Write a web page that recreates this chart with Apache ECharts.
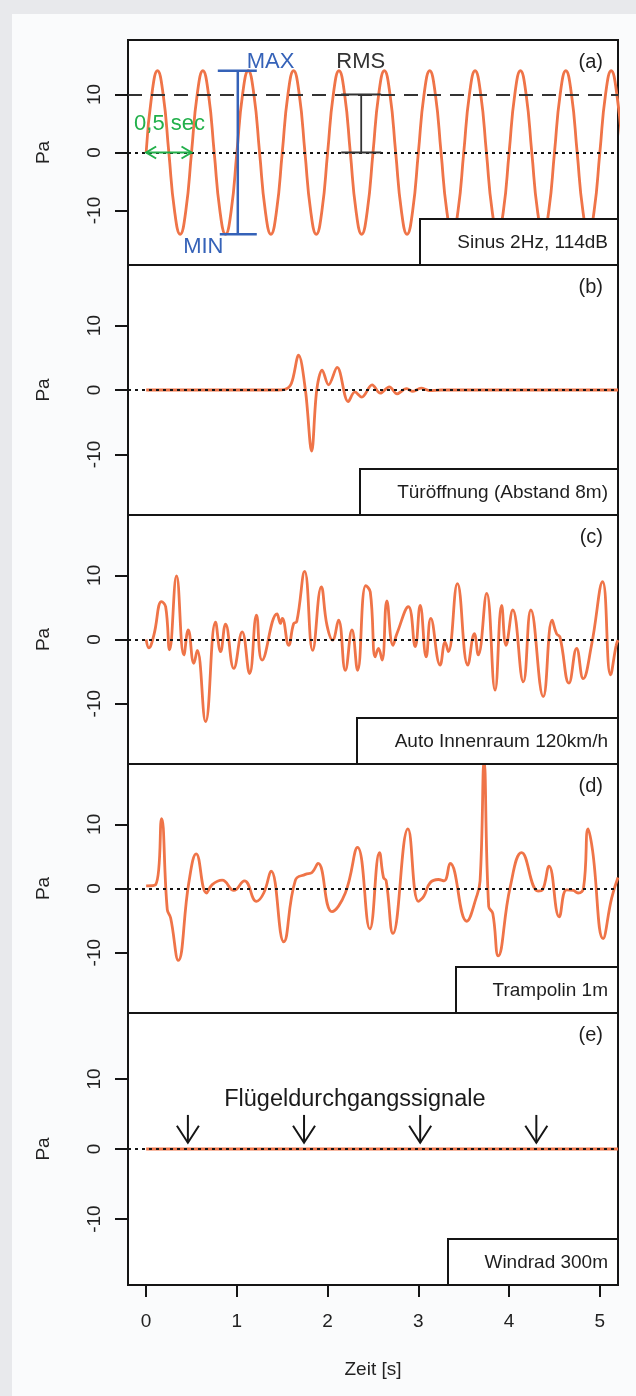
<!DOCTYPE html>
<html><head><meta charset="utf-8">
<script src="https://cdn.jsdelivr.net/npm/echarts@6/dist/echarts.min.js"></script>
<style>
html,body{margin:0;padding:0;background:#e8e9ec;}
#card{position:absolute;left:12px;top:14px;width:624px;height:1382px;background:#fafbfc;}
#chart{position:absolute;left:0;top:0;width:636px;height:1396px;}
</style></head><body>
<div id="card"></div>
<div id="chart"></div>
<script>
// ---------- data ----------
const xTicks = [0, 1, 2, 3, 4, 5];
const yTicks = [-10, 0, 10];
const panelLetters = ['(a)', '(b)', '(c)', '(d)', '(e)'];
const panelTitles = ['Sinus 2Hz, 114dB', 'Türöffnung (Abstand 8m)', 'Auto Innenraum 120km/h', 'Trampolin 1m', 'Windrad 300m'];

// (a) sine, sampled every 1/16 s
const sinusStart = 0, sinusStep = 0.0625;
const sinusPa = [
  0,10,14.1,10,0,-10,-14.1,-10,
  0,10,14.1,10,0,-10,-14.1,-10,
  0,10,14.1,10,0,-10,-14.1,-10,
  0,10,14.1,10,0,-10,-14.1,-10,
  0,10,14.1,10,0,-10,-14.1,-10,
  0,10,14.1,10,0,-10,-14.1,-10,
  0,10,14.1,10,0,-10,-14.1,-10,
  0,10,14.1,10,0,-10,-14.1,-10,
  0,10,14.1,10,0,-10,-14.1,-10,
  0,10,14.1,10,0,-10,-14.1,-10,
  0,10,14.1,10,0
];
const rmsLevel = 10;
const maxMinBar = [1.01, -14.1, 14.1];   // t, min, max
const rmsBar = [2.37, 0, 10];            // t, from, to
const periodArrow = [0, 0.5, 0];         // t0, t1, level

// (b) door opening
const tuerT  = [0, 0.8, 1.3, 1.45, 1.53, 1.60, 1.68, 1.755, 1.824, 1.88, 1.94, 2.01, 2.105, 2.227, 2.30, 2.376, 2.49, 2.58, 2.68, 2.765, 2.866, 2.94, 3.03, 3.12, 3.25, 3.5, 4.2, 5.2];
const tuerPa = [0, 0,   0,   0,    0.1,  1.0,  5.4,  0,     -9.5,  0,    3.1,  0.8,  3.5,   -1.8,  -0.3, -1.1,  0.8,  -0.5, 0.5,  -0.6,  0.2,   -0.2, 0.3,  -0.1, 0,    0,   0,   0];

// (c) car interior 120 km/h
const autoT  = [0,0.03,0.085,0.17,0.215,0.258,0.335,0.416,0.464,0.526,0.563,0.655,0.765,0.82,0.875,0.966,1.058,1.14,1.216,1.278,1.443,1.48,1.50,1.571,1.626,1.66,1.747,1.835,1.93,1.993,2.055,2.12,2.195,2.268,2.33,2.42,2.47,2.525,2.56,2.60,2.653,2.72,2.763,2.89,2.965,3.02,3.086,3.137,3.24,3.295,3.33,3.43,3.545,3.617,3.66,3.753,3.845,3.918,3.966,4.04,4.156,4.24,4.376,4.475,4.523,4.56,4.66,4.744,4.816,4.908,5.03,5.118,5.18,5.2];
const autoPa = [0,-1.3,0.7,5.9,5.1,-1.6,9.9,-2.4,1.5,-3.7,-1.7,-12.8,2.7,-1.9,2.4,-4.5,1.2,-5.3,3.8,-3.2,4.0,2.5,3.3,-0.9,2.5,2.8,10.6,-1.7,8.2,2.2,-0.1,3.0,-4.8,1.5,-4.8,8.4,7.4,-2.7,-1.4,-3.2,6.0,-0.9,0.9,5.1,-1.1,5.3,-2.7,3.3,-4.0,-0.4,-1.9,8.7,-4.0,0.9,-2.4,7.2,-7.9,5.3,-0.9,4.6,-6.6,4.6,-8.9,3.0,0.9,0.4,-6.8,-1.4,-6.1,-0.9,9.0,-5.5,-0.9,-0.1];

// (d) trampoline 1 m
const trampT  = [0,0.105,0.17,0.233,0.27,0.354,0.47,0.552,0.665,0.728,0.838,0.966,1.083,1.216,1.296,1.377,1.516,1.645,1.755,1.828,1.894,2.048,2.195,2.33,2.465,2.572,2.616,2.645,2.72,2.885,3.0,3.06,3.13,3.22,3.284,3.35,3.533,3.636,3.68,3.724,3.775,3.82,3.88,4.01,4.138,4.32,4.368,4.44,4.552,4.633,4.706,4.76,4.82,4.87,4.92,5.036,5.13,5.2];
const trampPa = [0.4,0.6,10.9,-3.3,-4.6,-11.2,0.9,5.4,-0.7,0.6,1.3,-0.3,1.2,-2.0,-0.7,2.7,-8.3,1.3,2.2,2.5,3.9,-3.6,-0.7,6.4,-6.3,5.6,1.7,1.2,-7.0,9.3,-2.0,-1.2,0.9,1.4,1.2,3.9,-5.1,-1.5,1.2,19.8,-2.8,-3.9,-10.5,0.1,5.6,-0.4,-0.2,3.5,-4.4,-0.2,-0.3,-0.7,0.1,9.3,5.9,-7.8,-1.5,1.7];

// (e) wind turbine 300 m
const windT  = [0, 1, 2, 3, 4, 5, 5.2];
const windPa = [0, 0, 0, 0, 0, 0, 0];
const bladeArrowT = [0.46, 1.74, 3.02, 4.30];
const bladeArrowPa = [4.86, 0.9];   // from, to

// ---------- styling / layout ----------
const FONT = 'Liberation Sans, Arial, Helvetica, sans-serif';
const ORANGE = '#ef7448', BLUE = '#3562b8', GREEN = '#22b04b', INK = '#151515';
const X_MIN = -0.2, X_MAX = 5.2, Y_MIN = -19.4, Y_MAX = 19.4;
const layout = [
  {top: 40, height: 225, box: 420},
  {top: 265, height: 250, box: 360},
  {top: 515, height: 249, box: 357},
  {top: 764, height: 249, box: 456},
  {top: 1013, height: 272, box: 448}
];
const GL = 128, GW = 490, GR = GL + GW;
const smoothing = [0.5, 0.35, 0.45, 0.45, 0];

const pairs = (ts, vs) => ts.map((t, i) => [t, vs[i]]);
const sinusData = sinusPa.map((v, i) => [sinusStart + i * sinusStep, v]);
const seriesData = [sinusData, pairs(tuerT, tuerPa), pairs(autoT, autoPa), pairs(trampT, trampPa), pairs(windT, windPa)];

const grids = layout.map(p => ({left: GL, width: GW, top: p.top, height: p.height, show: true,
  borderColor: INK, borderWidth: 2, backgroundColor: '#ffffff', containLabel: false, outerBoundsMode: 'none'}));

const xAxes = layout.map((p, i) => {
  const last = i === layout.length - 1;
  return {
    type: 'value', gridIndex: i, min: X_MIN, max: X_MAX, position: 'bottom',
    axisLine: {show: false, onZero: false}, splitLine: {show: false},
    axisTick: {show: last, customValues: xTicks, length: 12, inside: false, lineStyle: {color: INK, width: 2}},
    axisLabel: {show: last, customValues: xTicks, fontSize: 19, color: '#222', margin: 27, fontFamily: FONT},
    name: last ? 'Zeit [s]' : '', nameLocation: 'middle', nameGap: 75,
    nameTextStyle: {fontSize: 19, color: '#222', fontFamily: FONT}
  };
});
const yAxes = layout.map((p, i) => ({
  type: 'value', gridIndex: i, min: Y_MIN, max: Y_MAX, position: 'left',
  axisLine: {show: false, onZero: false}, splitLine: {show: false},
  axisTick: {show: true, customValues: yTicks, length: 13, inside: false, lineStyle: {color: INK, width: 2}},
  axisLabel: {customValues: yTicks, rotate: 90, fontSize: 19, color: '#222', margin: 24, fontFamily: FONT},
  name: 'Pa', nameLocation: 'middle', nameGap: 75, nameRotate: 90,
  nameTextStyle: {fontSize: 19, color: '#222', fontFamily: FONT}
}));

const zeroLine = {yAxis: 0, lineStyle: {type: [3, 4], color: INK, width: 2}};
const lineSeries = seriesData.map((d, i) => ({
  type: 'line', xAxisIndex: i, yAxisIndex: i, data: d, symbol: 'none',
  smooth: smoothing[i], clip: true, animation: false,
  lineStyle: {color: ORANGE, width: 2.8},
  markLine: {silent: true, symbol: ['none', 'none'], label: {show: false}, animation: false, z: 5,
    data: i === 0 ? [zeroLine, {yAxis: rmsLevel, lineStyle: {type: [14, 9], color: '#333', width: 1.8}}] : [zeroLine]}
}));

function txt(x, y, text, color, size, align) {
  return {type: 'text', x: x, y: y, style: {text: text, fill: color, font: size + 'px ' + FONT,
    align: align || 'center', verticalAlign: 'middle', textAlign: align || 'center', textVerticalAlign: 'middle'}};
}
function seg(a, b, color, w) {
  return {type: 'line', shape: {x1: a[0], y1: a[1], x2: b[0], y2: b[1]}, style: {stroke: color, lineWidth: w}};
}
function poly(pts, color, w) {
  return {type: 'polyline', shape: {points: pts}, style: {stroke: color, fill: 'none', lineWidth: w}};
}

function renderSinusNotes(params, api) {
  const c = (t, v) => api.coord([t, v]);
  const els = [];
  const top = c(maxMinBar[0], maxMinBar[2]), bot = c(maxMinBar[0], maxMinBar[1]);
  els.push(seg(top, bot, BLUE, 2.5));
  els.push(seg([top[0] - 20, top[1]], [top[0] + 19, top[1]], BLUE, 2.5));
  els.push(seg([bot[0] - 18, bot[1]], [bot[0] + 19, bot[1]], BLUE, 2.5));
  const r1 = c(rmsBar[0], rmsBar[2]), r0 = c(rmsBar[0], rmsBar[1]);
  els.push(seg(r1, r0, '#333', 1.8));
  els.push(seg([r1[0] - 20, r1[1]], [r1[0] + 20, r1[1]], '#333', 1.8));
  els.push(seg([r0[0] - 20, r0[1]], [r0[0] + 20, r0[1]], '#333', 1.8));
  const a = c(periodArrow[0], periodArrow[2]), b = c(periodArrow[1], periodArrow[2]);
  els.push(seg(a, b, GREEN, 2));
  els.push(poly([[a[0] + 10, a[1] - 6], a, [a[0] + 10, a[1] + 6]], GREEN, 2));
  els.push(poly([[b[0] - 10, b[1] - 6], b, [b[0] - 10, b[1] + 6]], GREEN, 2));
  const m = c(1.37, 15.6); els.push(txt(m[0], m[1], 'MAX', BLUE, 22));
  const n = c(0.63, -16.2); els.push(txt(n[0], n[1], 'MIN', BLUE, 22));
  const r = c(2.365, 15.6); els.push(txt(r[0], r[1], 'RMS', '#333', 22));
  const s = c(0.258, 5.0); els.push(txt(s[0], s[1], '0,5 sec', GREEN, 22));
  return {type: 'group', children: els};
}
function renderWindNotes(params, api) {
  const c = (t, v) => api.coord([t, v]);
  const els = [];
  bladeArrowT.forEach(t => {
    const p0 = c(t, bladeArrowPa[0]), p1 = c(t, bladeArrowPa[1]);
    els.push(seg(p0, p1, INK, 2));
    els.push(poly([[p1[0] - 11, p1[1] - 17], p1, [p1[0] + 11, p1[1] - 17]], INK, 2));
  });
  const q = c(2.30, 7.1); els.push(txt(q[0], q[1], 'Flügeldurchgangssignale', '#1a1a1a', 23.5));
  return {type: 'group', children: els};
}

const noteSeries = [
  {type: 'custom', xAxisIndex: 0, yAxisIndex: 0, data: [[0, 0]], renderItem: renderSinusNotes, z: 10, silent: true, animation: false},
  {type: 'custom', xAxisIndex: 4, yAxisIndex: 4, data: [[0, 0]], renderItem: renderWindNotes, z: 10, silent: true, animation: false}
];

const graphics = [];
layout.forEach((p, i) => {
  const bottom = p.top + p.height;
  graphics.push({type: 'rect', z: 100, shape: {x: p.box, y: bottom - 46, width: GR - p.box, height: 46},
    style: {fill: '#ffffff', stroke: INK, lineWidth: 2}});
  graphics.push(Object.assign(txt(608, bottom - 22, panelTitles[i], '#1e1e1e', 19, 'right'), {z: 101}));
  graphics.push(Object.assign(txt(603, p.top + 22, panelLetters[i], '#1e1e1e', 20, 'right'), {z: 101}));
});

const chart = echarts.init(document.getElementById('chart'), null, {renderer: 'canvas'});
chart.setOption({
  animation: false,
  backgroundColor: 'transparent',
  textStyle: {fontFamily: FONT},
  grid: grids, xAxis: xAxes, yAxis: yAxes,
  series: lineSeries.concat(noteSeries),
  graphic: graphics
});
</script>
</body></html>
